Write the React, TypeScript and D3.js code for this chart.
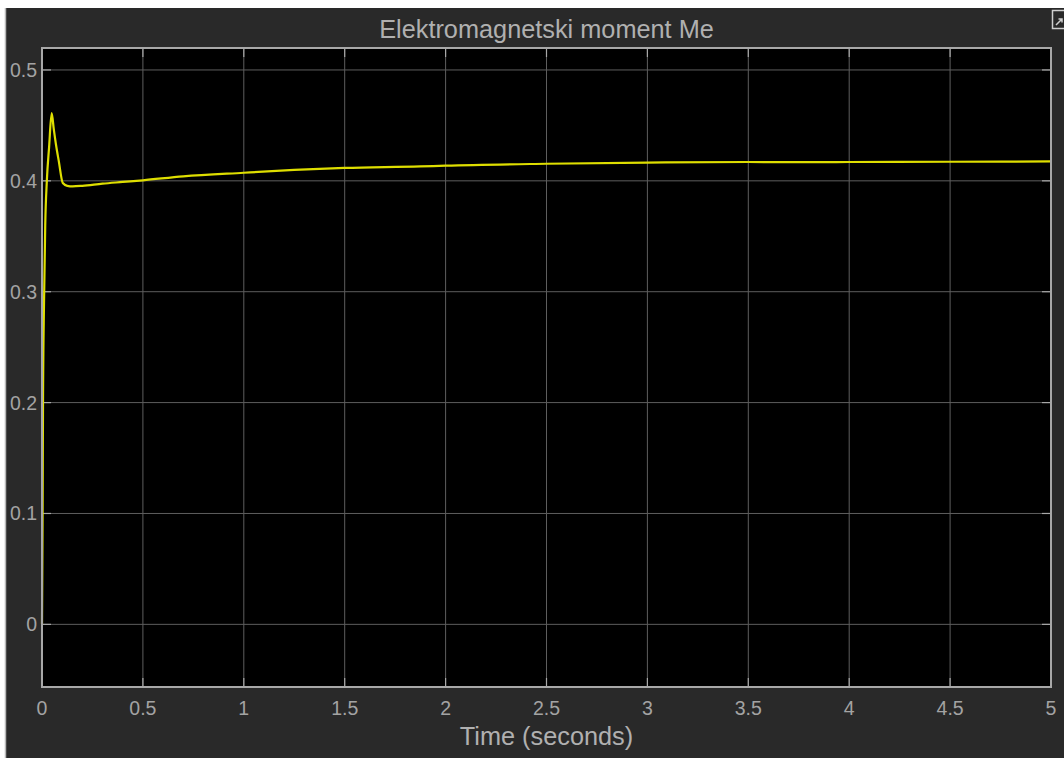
import React from "react";
import * as d3 from "d3";

const title = "Elektromagnetski moment Me";
const xLabel = "Time (seconds)";
const timeS = [0, 0.003, 0.005, 0.01, 0.016, 0.024, 0.035, 0.048, 0.058, 0.069, 0.083, 0.103, 0.125, 0.152, 0.2, 0.3, 0.4, 0.5, 0.7, 1.0, 1.25, 1.5, 1.875, 2.0, 2.5, 3.0, 3.5, 3.86, 4.0, 4.5, 5.0];
const torque = [0, 0.1, 0.2, 0.29, 0.36, 0.4, 0.43, 0.461, 0.447, 0.433, 0.418, 0.398, 0.3955, 0.395, 0.3955, 0.3975, 0.399, 0.4005, 0.404, 0.4073, 0.4098, 0.4116, 0.413, 0.4137, 0.4154, 0.4165, 0.417, 0.4168, 0.417, 0.4172, 0.4175];
const xTicks = [0, 0.5, 1, 1.5, 2, 2.5, 3, 3.5, 4, 4.5, 5];
const yTicks = [0, 0.1, 0.2, 0.3, 0.4, 0.5];

const W = 1064, H = 758;
const L = 42, R = 1051, T = 48, B = 687;
const FONT = "'Liberation Sans', Arial, Helvetica, sans-serif";

export default function App() {
  const x = d3.scaleLinear().domain([0, 5]).range([L, R]);
  const y = d3.scaleLinear().domain([-0.0565, 0.5198]).range([B, T]);
  const line = d3.line<number>()
    .x((_, i) => x(timeS[i]))
    .y((d) => y(d))
    .curve(d3.curveMonotoneX);
  const tl = 9;
  return (
    <svg width={W} height={H} style={{ position: "absolute", left: 0, top: 0 }} fontFamily={FONT}>
      <rect x={0} y={0} width={W} height={H} fill="#ffffff" />
      <rect x={6} y={8} width={W - 6} height={H - 8} fill="#292929" />
      <line x1={5.5} x2={5.5} y1={8} y2={H} stroke="#b8b8b8" strokeWidth={1.5} />
      <rect x={1052.5} y={10.5} width={14} height={18} fill="none" stroke="#cfcfcf" strokeWidth={1.5} />
      <path d="M1056 25 L1062 19 M1058.5 19 L1062 19 L1062 22.5" fill="none" stroke="#cfcfcf" strokeWidth={1.5} />
      <rect x={L} y={T} width={R - L} height={B - T} fill="#000000" />
      {xTicks.map((t) => (
        <line key={"gx" + t} x1={x(t)} x2={x(t)} y1={T} y2={B} stroke="#5e5e5e" strokeWidth={1} />
      ))}
      {yTicks.map((t) => (
        <line key={"gy" + t} x1={L} x2={R} y1={y(t)} y2={y(t)} stroke="#5e5e5e" strokeWidth={1} />
      ))}
      {xTicks.map((t) => (
        <g key={"tx" + t} stroke="#a8a8a8" strokeWidth={1.2}>
          <line x1={x(t)} x2={x(t)} y1={B} y2={B - tl} />
          <line x1={x(t)} x2={x(t)} y1={T} y2={T + tl} />
        </g>
      ))}
      {yTicks.map((t) => (
        <g key={"ty" + t} stroke="#a8a8a8" strokeWidth={1.2}>
          <line x1={L} x2={L + tl} y1={y(t)} y2={y(t)} />
          <line x1={R} x2={R - tl} y1={y(t)} y2={y(t)} />
        </g>
      ))}
      <path d={line(torque) || ""} fill="none" stroke="#dede00" strokeWidth={2.2} strokeLinejoin="round" />
      <rect x={L} y={T} width={R - L} height={B - T} fill="none" stroke="#a8a8a8" strokeWidth={2} />
      {xTicks.map((t) => (
        <text key={"lx" + t} x={x(t)} y={715} textAnchor="middle" fill="#a3a3a3" fontSize={19.5}>
          {String(t)}
        </text>
      ))}
      {yTicks.map((t) => (
        <text key={"ly" + t} x={37} y={y(t) + 7} textAnchor="end" fill="#a3a3a3" fontSize={19.5}>
          {String(t)}
        </text>
      ))}
      <text x={(L + R) / 2} y={38} textAnchor="middle" fill="#b0b0b0" fontSize={25.3}>{title}</text>
      <text x={(L + R) / 2} y={745} textAnchor="middle" fill="#b0b0b0" fontSize={25.3}>{xLabel}</text>
    </svg>
  );
}
